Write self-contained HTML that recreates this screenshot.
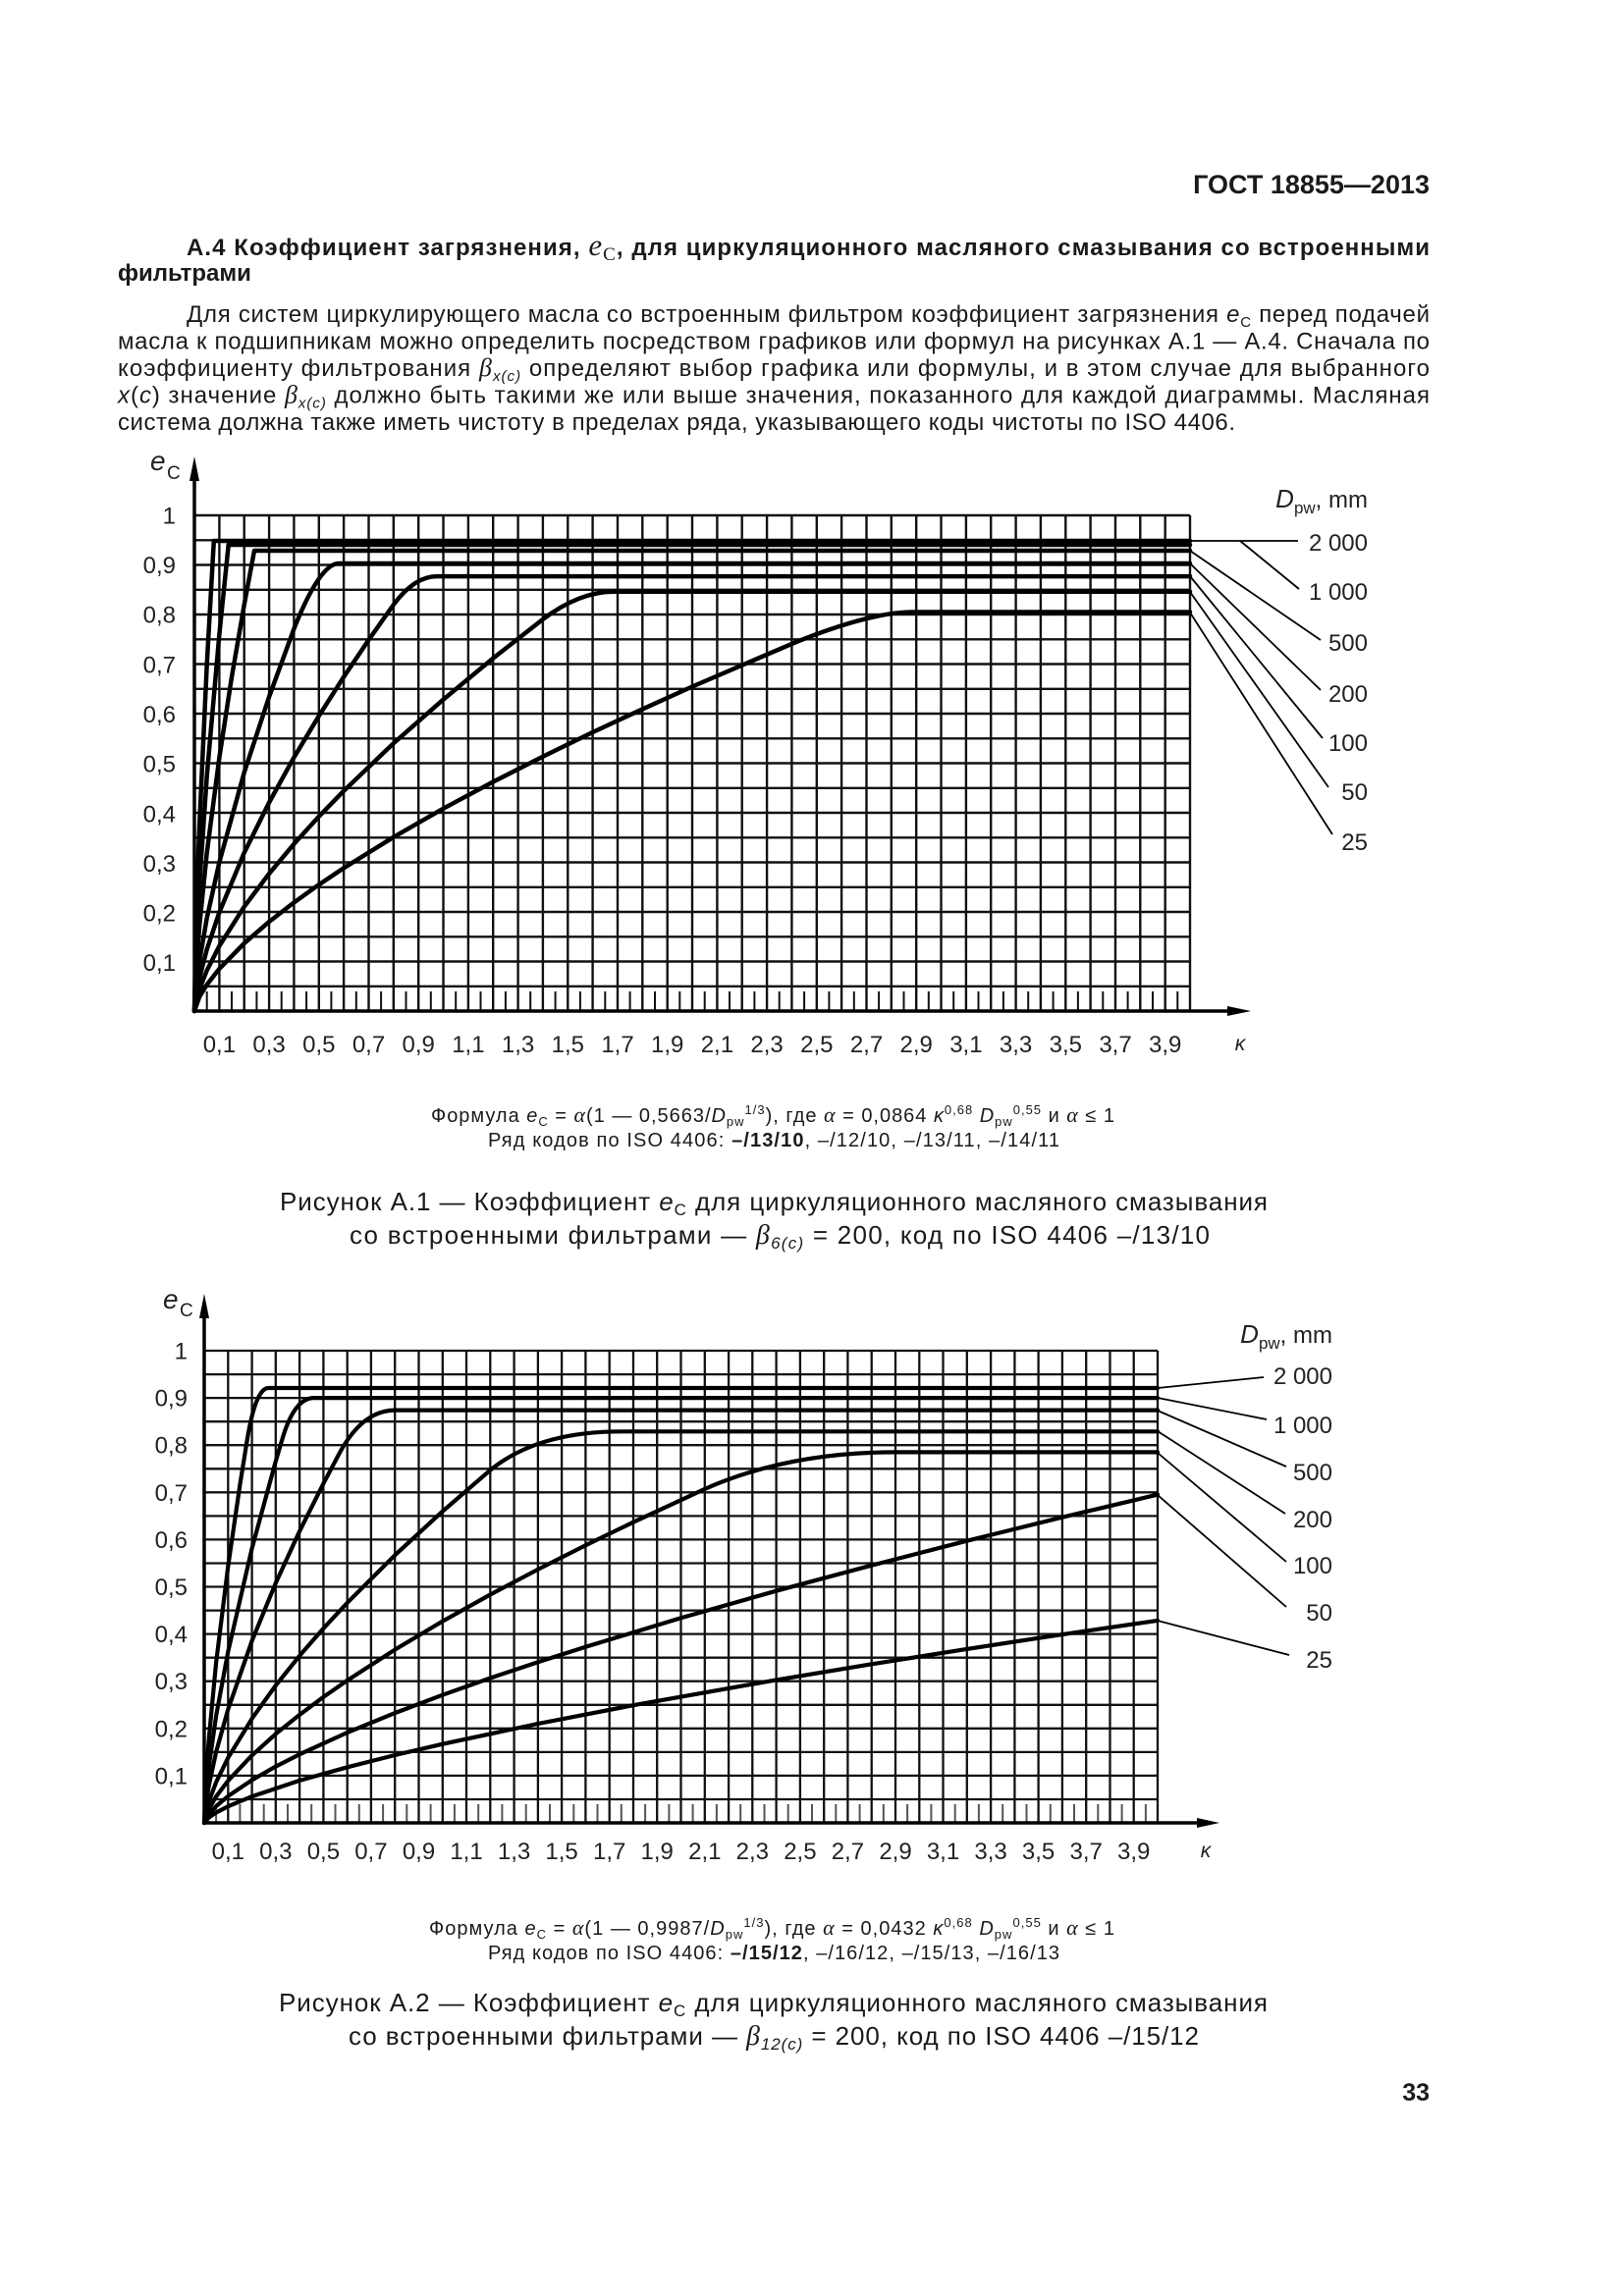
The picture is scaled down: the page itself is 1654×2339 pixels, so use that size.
<!DOCTYPE html>
<html><head><meta charset="utf-8"><style>
html,body{margin:0;padding:0;background:#fff;}
body{width:1654px;height:2339px;position:relative;overflow:hidden;}
svg{position:absolute;left:0;top:0;}
.t{font-family:"Liberation Sans",Arial,"Noto Sans CJK SC",sans-serif;fill:#1a1a1a;}
.b{font-weight:bold;}
.i{font-style:italic;}
.s{font-family:"Liberation Serif","Times New Roman",serif;}
.lbl{font-family:"Liberation Sans",Arial,sans-serif;font-size:24px;fill:#222;}
</style></head><body>
<svg width="1654" height="2339" viewBox="0 0 1654 2339" xmlns="http://www.w3.org/2000/svg">
<!-- header -->
<text class="t b" x="1456" y="197" font-size="27" text-anchor="end">ГОСТ 18855—2013</text>
<text class="t b" x="190" y="260" font-size="24" textLength="1266" lengthAdjust="spacing">А.4 Коэффициент загрязнения, <tspan class="s i" font-size="31" font-weight="normal">e</tspan><tspan class="s" font-size="19" font-weight="normal" baseline-shift="-5">C</tspan>, для циркуляционного масляного смазывания со встроенными</text>
<text class="t b" x="120" y="286" font-size="24">фильтрами</text>

<text class="t" x="190" y="328" font-size="24" textLength="1266" lengthAdjust="spacing">Для систем циркулирующего масла со встроенным фильтром коэффициент загрязнения <tspan class="i">e</tspan><tspan font-size="15" baseline-shift="-5">C</tspan> перед подачей</text>
<text class="t" x="120" y="355.5" font-size="24" textLength="1336" lengthAdjust="spacing">масла к подшипникам можно определить посредством графиков или формул на рисунках А.1 — А.4. Сначала по</text>
<text class="t" x="120" y="383" font-size="24" textLength="1336" lengthAdjust="spacing">коэффициенту фильтрования <tspan class="s i" font-size="26">β</tspan><tspan class="i" font-size="15" baseline-shift="-5">x(c)</tspan> определяют выбор графика или формулы, и в этом случае для выбранного</text>
<text class="t" x="120" y="410.5" font-size="24" textLength="1336" lengthAdjust="spacing"><tspan class="i">x</tspan>(<tspan class="i">c</tspan>) значение <tspan class="s i" font-size="26">β</tspan><tspan class="i" font-size="15" baseline-shift="-5">x(c)</tspan> должно быть такими же или выше значения, показанного для каждой диаграммы. Масляная</text>
<text class="t" x="120" y="438" font-size="24" textLength="1138" lengthAdjust="spacing">система должна также иметь чистоту в пределах ряда, указывающего коды чистоты по ISO 4406.</text>

<!-- ============ CHART 1 ============ -->
<g stroke="#111" stroke-width="2.4" fill="none">
<path d="M223.4 525V1030M248.7 525V1030M274.1 525V1030M299.4 525V1030M324.8 525V1030M350.1 525V1030M375.5 525V1030M400.8 525V1030M426.2 525V1030M451.5 525V1030M476.9 525V1030M502.2 525V1030M527.6 525V1030M552.9 525V1030M578.3 525V1030M603.6 525V1030M629 525V1030M654.3 525V1030M679.7 525V1030M705 525V1030M730.4 525V1030M755.7 525V1030M781.1 525V1030M806.4 525V1030M831.8 525V1030M857.1 525V1030M882.5 525V1030M907.8 525V1030M933.2 525V1030M958.5 525V1030M983.9 525V1030M1009.2 525V1030M1034.6 525V1030M1059.9 525V1030M1085.3 525V1030M1110.6 525V1030M1136 525V1030M1161.3 525V1030M1186.7 525V1030M1212 525V1030"/>
<path d="M198 1004.8H1212M198 979.5H1212M198 954.3H1212M198 929H1212M198 903.8H1212M198 878.5H1212M198 853.3H1212M198 828H1212M198 802.8H1212M198 777.5H1212M198 752.3H1212M198 727H1212M198 701.8H1212M198 676.5H1212M198 651.3H1212M198 626H1212M198 600.8H1212M198 575.5H1212M198 550.3H1212M198 525H1212"/>
<path stroke-width="2" d="M210.7 1010v20M236 1010v20M261.4 1010v20M286.7 1010v20M312.1 1010v20M337.4 1010v20M362.8 1010v20M388.1 1010v20M413.5 1010v20M438.8 1010v20M464.2 1010v20M489.5 1010v20M514.9 1010v20M540.2 1010v20M565.6 1010v20M590.9 1010v20M616.3 1010v20M641.6 1010v20M667 1010v20M692.3 1010v20M717.7 1010v20M743 1010v20M768.4 1010v20M793.7 1010v20M819.1 1010v20M844.4 1010v20M869.8 1010v20M895.1 1010v20M920.5 1010v20M945.8 1010v20M971.2 1010v20M996.5 1010v20M1021.9 1010v20M1047.2 1010v20M1072.6 1010v20M1097.9 1010v20M1123.3 1010v20M1148.6 1010v20M1174 1010v20M1199.3 1010v20"/>
</g>
<!-- axes chart 1 -->
<g stroke="#000" stroke-width="3.5" fill="none">
<path d="M198 486V1030"/>
<path d="M198 1030H1254"/>
</g>
<polygon points="198,465 193,490 203,490" fill="#000"/>
<polygon points="1274,1030 1250,1025 1250,1035" fill="#000"/>
<!-- curves chart 1 -->
<g stroke="#000" stroke-width="4.5" fill="none" stroke-linejoin="round" stroke-linecap="round">
<path d="M198,1030 L200.5,912 L203.1,841 L210.7,677 L217.8,551 H1212"/>
<path d="M198,1030 L200.5,949.9 L203.1,901.5 L210.7,790.4 L223.4,646.1 L232.7,555 H1212"/>
<path d="M198,1030 L200.5,976.1 L203.1,943.6 L210.7,868.8 L223.4,771.7 L236,689.7 L248.7,616.3 L259,561 H1212"/>
<path d="M198,1030 L200.5,998.4 L203.1,979.2 L210.7,935.3 L223.4,878.3 L248.7,787 L274.1,709.8 L299.4,640.6 Q325.9,574 345,574 H1212"/>
<path d="M198,1030 L200.5,1009 L203.1,996.3 L210.7,967.2 L223.4,929.4 L248.7,868.8 L274.1,817.5 L299.4,771.6 L324.8,729.3 L350.1,689.6 L375.5,651.9 L400.8,616 Q422.1,587.1 445,587.1 H1212"/>
<path d="M198,1030 L203.1,1007.8 L210.7,988.6 L223.4,963.7 L248.7,923.7 L274.1,890 L299.4,859.8 L324.8,831.8 L350.1,805.7 L400.8,757.2 L451.5,712.6 L502.2,670.6 L552.9,630.9 Q590.4,602.8 625,602.8 H1212"/>
<path d="M198,1030 L203.1,1015.6 L210.7,1003.1 L223.4,986.9 L248.7,961 L274.1,939 L299.4,919.4 L324.8,901.2 L350.1,884.3 L400.8,852.8 L451.5,823.7 L502.2,796.5 L552.9,770.7 L603.6,746 L654.3,722.4 L705,699.5 L806.4,655.9 Q885.5,623.5 930,623.5 H1212"/>
</g>
<!-- leaders chart 1 -->
<g stroke="#000" stroke-width="1.8" fill="none">
<path d="M1212,551 H1322"/>
<path d="M1263,551 L1323,600"/>
<path d="M1212,561 L1345,652"/>
<path d="M1212,574 L1345,703"/>
<path d="M1212,587 L1347,752"/>
<path d="M1212,603 L1353,802"/>
<path d="M1212,624 L1357,850"/>
</g>
<!-- labels chart 1 -->
<text class="lbl" x="1393" y="517" text-anchor="end"><tspan class="i" font-size="26">D</tspan><tspan font-size="17" baseline-shift="-6">pw</tspan>, mm</text>
<g class="lbl" text-anchor="end">
<text x="1393" y="561">2 000</text>
<text x="1393" y="611">1 000</text>
<text x="1393" y="663">500</text>
<text x="1393" y="715">200</text>
<text x="1393" y="765">100</text>
<text x="1393" y="815">50</text>
<text x="1393" y="866">25</text>
</g>
<text class="lbl i" x="153" y="479" style="font-size:28px">e</text>
<text class="lbl" x="170" y="488" style="font-size:19px">C</text>
<g class="lbl" text-anchor="end">
<text x="179" y="533.5">1</text>
<text x="179" y="584">0,9</text>
<text x="179" y="634.5">0,8</text>
<text x="179" y="685.3">0,7</text>
<text x="179" y="736">0,6</text>
<text x="179" y="786.5">0,5</text>
<text x="179" y="837.5">0,4</text>
<text x="179" y="888">0,3</text>
<text x="179" y="938.5">0,2</text>
<text x="179" y="989">0,1</text>
</g>
<g class="lbl" text-anchor="middle">
<text x="223.4" y="1072">0,1</text>
<text x="274.1" y="1072">0,3</text>
<text x="324.8" y="1072">0,5</text>
<text x="375.5" y="1072">0,7</text>
<text x="426.2" y="1072">0,9</text>
<text x="476.9" y="1072">1,1</text>
<text x="527.6" y="1072">1,3</text>
<text x="578.3" y="1072">1,5</text>
<text x="629" y="1072">1,7</text>
<text x="679.7" y="1072">1,9</text>
<text x="730.4" y="1072">2,1</text>
<text x="781.1" y="1072">2,3</text>
<text x="831.8" y="1072">2,5</text>
<text x="882.5" y="1072">2,7</text>
<text x="933.2" y="1072">2,9</text>
<text x="983.9" y="1072">3,1</text>
<text x="1034.6" y="1072">3,3</text>
<text x="1085.3" y="1072">3,5</text>
<text x="1136" y="1072">3,7</text>
<text x="1186.7" y="1072">3,9</text>
<text x="1263" y="1070" class="i" style="font-size:21px">κ</text>
</g>

<!-- captions 1 -->
<text class="t" x="439" y="1143" font-size="20" textLength="696" lengthAdjust="spacing">Формула <tspan class="i">e</tspan><tspan font-size="13" baseline-shift="-4">C</tspan> = <tspan class="s i" font-size="22">α</tspan>(1 — 0,5663/<tspan class="i">D</tspan><tspan font-size="13" baseline-shift="-4">pw</tspan><tspan font-size="13" baseline-shift="8">1/3</tspan>), где <tspan class="s i" font-size="22">α</tspan> = 0,0864 <tspan class="i">κ</tspan><tspan font-size="13" baseline-shift="8">0,68</tspan> <tspan class="i">D</tspan><tspan font-size="13" baseline-shift="-4">pw</tspan><tspan font-size="13" baseline-shift="8">0,55</tspan> и <tspan class="s i" font-size="22">α</tspan> ≤ 1</text>
<text class="t" x="497" y="1168" font-size="20" textLength="582" lengthAdjust="spacing">Ряд кодов по ISO 4406: <tspan class="b">–/13/10</tspan>, –/12/10, –/13/11, –/14/11</text>
<text class="t" x="285" y="1233" font-size="26" textLength="1006" lengthAdjust="spacing">Рисунок А.1 — Коэффициент <tspan class="i">e</tspan><tspan font-size="17" baseline-shift="-5">C</tspan> для циркуляционного масляного смазывания</text>
<text class="t" x="356" y="1267" font-size="26" textLength="876" lengthAdjust="spacing">со встроенными фильтрами — <tspan class="s i" font-size="28">β</tspan><tspan class="i" font-size="17" baseline-shift="-5">6(c)</tspan> = 200, код по ISO 4406 –/13/10</text>

<!-- ============ CHART 2 ============ -->
<g stroke="#111" stroke-width="2.3" fill="none">
<path d="M232.3 1376v481M256.6 1376v481M280.8 1376v481M305.1 1376v481M329.4 1376v481M353.7 1376v481M377.9 1376v481M402.2 1376v481M426.5 1376v481M450.8 1376v481M475 1376v481M499.3 1376v481M523.6 1376v481M547.9 1376v481M572.1 1376v481M596.4 1376v481M620.7 1376v481M645 1376v481M669.2 1376v481M693.5 1376v481M717.8 1376v481M742.1 1376v481M766.3 1376v481M790.6 1376v481M814.9 1376v481M839.2 1376v481M863.4 1376v481M887.7 1376v481M912 1376v481M936.3 1376v481M960.5 1376v481M984.8 1376v481M1009.1 1376v481M1033.4 1376v481M1057.6 1376v481M1081.9 1376v481M1106.2 1376v481M1130.5 1376v481M1154.7 1376v481M1179 1376v481"/>
<path d="M208 1833H1179M208 1808.9H1179M208 1784.9H1179M208 1760.8H1179M208 1736.8H1179M208 1712.7H1179M208 1688.7H1179M208 1664.6H1179M208 1640.6H1179M208 1616.5H1179M208 1592.5H1179M208 1568.4H1179M208 1544.4H1179M208 1520.3H1179M208 1496.3H1179M208 1472.2H1179M208 1448.2H1179M208 1424.1H1179M208 1400.1H1179M208 1376H1179"/>
<path stroke="#555" stroke-width="2" d="M220.1 1838v19M244.4 1838v19M268.7 1838v19M293 1838v19M317.2 1838v19M341.5 1838v19M365.8 1838v19M390.1 1838v19M414.3 1838v19M438.6 1838v19M462.9 1838v19M487.2 1838v19M511.4 1838v19M535.7 1838v19M560 1838v19M584.3 1838v19M608.5 1838v19M632.8 1838v19M657.1 1838v19M681.4 1838v19M705.6 1838v19M729.9 1838v19M754.2 1838v19M778.5 1838v19M802.7 1838v19M827 1838v19M851.3 1838v19M875.6 1838v19M899.8 1838v19M924.1 1838v19M948.4 1838v19M972.7 1838v19M996.9 1838v19M1021.2 1838v19M1045.5 1838v19M1069.8 1838v19M1094 1838v19M1118.3 1838v19M1142.6 1838v19M1166.9 1838v19"/>
</g>
<g stroke="#000" stroke-width="3.5" fill="none">
<path d="M208 1338V1857"/>
<path d="M208 1857H1222"/>
</g>
<polygon points="208,1318 203,1343 213,1343" fill="#000"/>
<polygon points="1242,1857 1219,1852 1219,1862" fill="#000"/>
<g stroke="#000" stroke-width="4.2" fill="none" stroke-linejoin="round" stroke-linecap="round">
<path d="M208,1857 L210.4,1802.4 L212.9,1769.5 L220.1,1693.8 L232.3,1595.6 L244.4,1512.5 L251.7,1467 Q260.4,1414 273.5,1414 H1179"/>
<path d="M208,1857 L210.4,1820.6 L212.9,1798.6 L220.1,1748.1 L232.3,1682.5 L256.6,1577.4 L280.8,1488.6 L288.1,1464 Q300.2,1424.1 319.7,1424.1 H1179"/>
<path d="M208,1857 L210.4,1832.9 L212.9,1818.3 L220.1,1784.8 L232.3,1741.3 L256.6,1671.6 L280.8,1612.7 L305.1,1559.9 L329.4,1511.3 L346.4,1479.1 Q369.9,1436.6 402.2,1436.6 H1179"/>
<path d="M208,1857 L212.9,1834.8 L220.1,1815.6 L232.3,1790.7 L256.6,1750.8 L280.8,1717 L305.1,1686.8 L329.4,1658.9 L353.7,1632.8 L402.2,1584.3 L450.8,1539.6 L499.3,1497.7 Q547.4,1458.3 632.8,1458.3 H1179"/>
<path d="M208,1857 L212.9,1842.7 L220.1,1830.2 L232.3,1814.1 L256.6,1788.3 L280.8,1766.4 L305.1,1746.9 L329.4,1728.8 L353.7,1711.9 L402.2,1680.6 L450.8,1651.6 L499.3,1624.5 L547.9,1598.8 L596.4,1574.3 L645,1550.7 L717.8,1516.9 Q802.7,1479.4 912,1479.4 H1179"/>
<path d="M208,1857 L212.9,1847.9 L220.1,1840 L232.3,1829.8 L256.6,1813.4 L280.8,1799.6 L305.1,1787.2 L353.7,1765 L402.2,1745.1 L450.8,1726.7 L499.3,1709.5 L547.9,1693.2 L596.4,1677.7 L693.5,1648.3 L790.6,1620.7 L887.7,1594.7 L984.8,1569.7 L1081.9,1545.7 L1179,1522.6"/>
<path d="M208,1857 L212.9,1851.4 L220.1,1846.5 L232.3,1840.2 L256.6,1830.1 L305.1,1813.9 L353.7,1800.3 L402.2,1788 L450.8,1776.7 L547.9,1756 L645,1737.2 L790.6,1711.4 L887.7,1695.3 L984.8,1679.9 L1081.9,1665.1 L1179,1650.9"/>
</g>
<g stroke="#000" stroke-width="1.8" fill="none">
<path d="M1179,1414 L1287,1403"/>
<path d="M1179,1424 L1290,1446"/>
<path d="M1179,1437 L1310,1494"/>
<path d="M1179,1458 L1309,1542"/>
<path d="M1179,1480 L1310,1591"/>
<path d="M1179,1523 L1310,1637"/>
<path d="M1179,1651 L1313,1686"/>
</g>
<text class="lbl" x="1357" y="1368" text-anchor="end"><tspan class="i" font-size="26">D</tspan><tspan font-size="17" baseline-shift="-6">pw</tspan>, mm</text>
<g class="lbl" text-anchor="end">
<text x="1357" y="1410">2 000</text>
<text x="1357" y="1460">1 000</text>
<text x="1357" y="1508">500</text>
<text x="1357" y="1556">200</text>
<text x="1357" y="1603">100</text>
<text x="1357" y="1651">50</text>
<text x="1357" y="1699">25</text>
</g>
<text class="lbl i" x="166" y="1333" style="font-size:28px">e</text>
<text class="lbl" x="183" y="1341" style="font-size:19px">C</text>
<g class="lbl" text-anchor="end">
<text x="191" y="1384.5">1</text>
<text x="191" y="1432.6">0,9</text>
<text x="191" y="1480.7">0,8</text>
<text x="191" y="1528.8">0,7</text>
<text x="191" y="1576.9">0,6</text>
<text x="191" y="1625">0,5</text>
<text x="191" y="1673.1">0,4</text>
<text x="191" y="1721.2">0,3</text>
<text x="191" y="1769.3">0,2</text>
<text x="191" y="1817.4">0,1</text>
</g>
<g class="lbl" text-anchor="middle">
<text x="232.3" y="1894">0,1</text>
<text x="280.8" y="1894">0,3</text>
<text x="329.4" y="1894">0,5</text>
<text x="377.9" y="1894">0,7</text>
<text x="426.5" y="1894">0,9</text>
<text x="475" y="1894">1,1</text>
<text x="523.6" y="1894">1,3</text>
<text x="572.1" y="1894">1,5</text>
<text x="620.7" y="1894">1,7</text>
<text x="669.2" y="1894">1,9</text>
<text x="717.8" y="1894">2,1</text>
<text x="766.3" y="1894">2,3</text>
<text x="814.9" y="1894">2,5</text>
<text x="863.4" y="1894">2,7</text>
<text x="912" y="1894">2,9</text>
<text x="960.5" y="1894">3,1</text>
<text x="1009.1" y="1894">3,3</text>
<text x="1057.6" y="1894">3,5</text>
<text x="1106.2" y="1894">3,7</text>
<text x="1154.7" y="1894">3,9</text>
<text x="1228" y="1892" class="i" style="font-size:21px">κ</text>
</g>

<!-- captions 2 -->
<text class="t" x="437" y="1971" font-size="20" textLength="698" lengthAdjust="spacing">Формула <tspan class="i">e</tspan><tspan font-size="13" baseline-shift="-4">C</tspan> = <tspan class="s i" font-size="22">α</tspan>(1 — 0,9987/<tspan class="i">D</tspan><tspan font-size="13" baseline-shift="-4">pw</tspan><tspan font-size="13" baseline-shift="8">1/3</tspan>), где <tspan class="s i" font-size="22">α</tspan> = 0,0432 <tspan class="i">κ</tspan><tspan font-size="13" baseline-shift="8">0,68</tspan> <tspan class="i">D</tspan><tspan font-size="13" baseline-shift="-4">pw</tspan><tspan font-size="13" baseline-shift="8">0,55</tspan> и <tspan class="s i" font-size="22">α</tspan> ≤ 1</text>
<text class="t" x="497" y="1996" font-size="20" textLength="582" lengthAdjust="spacing">Ряд кодов по ISO 4406: <tspan class="b">–/15/12</tspan>, –/16/12, –/15/13, –/16/13</text>
<text class="t" x="284" y="2049" font-size="26" textLength="1007" lengthAdjust="spacing">Рисунок А.2 — Коэффициент <tspan class="i">e</tspan><tspan font-size="17" baseline-shift="-5">C</tspan> для циркуляционного масляного смазывания</text>
<text class="t" x="355" y="2083" font-size="26" textLength="866" lengthAdjust="spacing">со встроенными фильтрами — <tspan class="s i" font-size="28">β</tspan><tspan class="i" font-size="17" baseline-shift="-5">12(c)</tspan> = 200, код по ISO 4406 –/15/12</text>

<text class="t b" x="1456" y="2140" font-size="25" text-anchor="end">33</text>
</svg>
</body></html>
